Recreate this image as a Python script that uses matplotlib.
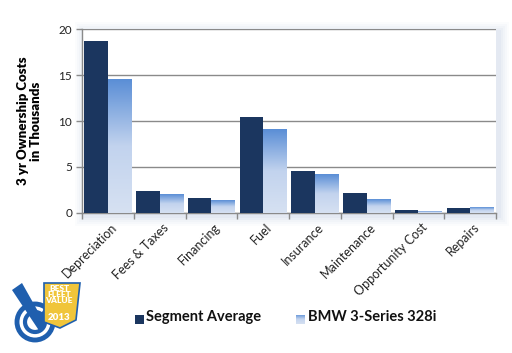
import matplotlib
matplotlib.use("Agg")
import matplotlib.pyplot as plt
import numpy as np
from matplotlib.colors import LinearSegmentedColormap
from matplotlib.patches import Polygon, Circle, Rectangle

categories = ["Depreciation", "Fees & Taxes", "Financing", "Fuel", "Insurance",
              "Maintenance", "Opportunity Cost", "Repairs"]
segment_avg = [18.7, 2.37, 1.6, 10.45, 4.6, 2.17, 0.31, 0.52]
bmw_328i = [14.6, 2.05, 1.39, 9.15, 4.16, 1.52, 0.2, 0.63]
series_names = ["Segment Average", "BMW 3-Series 328i"]
yticks = [0, 5, 10, 15, 20]

plt.rcParams['font.family'] = ['Lato', 'DejaVu Sans']

W, H = 512, 353
fig = plt.figure(figsize=(W/100, H/100), dpi=100)

def fx(px):
    return px / W

def fy(py):
    return 1 - py / H

ax_l, ax_r, ax_t, ax_b = 82, 496, 29.3, 212.8
# soft shadow behind plot area
for i, a in enumerate([0.025, 0.03, 0.035, 0.045, 0.055]):
    g = 10 - 2 * i
    fig.patches.append(Rectangle((fx(ax_l - g + 3), fy(ax_b + g + 3)),
                                 fx(ax_r - ax_l + 2 * g), (ax_b - ax_t + 2 * g) / H,
                                 transform=fig.transFigure, facecolor="#6f8fbf",
                                 edgecolor="none", alpha=a, zorder=-5))

ax = fig.add_axes([fx(ax_l), fy(ax_b), fx(ax_r - ax_l), (ax_b - ax_t) / H])
ax.set_zorder(2)
ax.patch.set_facecolor("white")
ax.patch.set_alpha(1)
x = np.arange(len(categories))
w = 0.455
dark = "#1b365f"
b1 = ax.bar(x - w/2, segment_avg, w, color=dark, zorder=3, label=series_names[0])
b2 = ax.bar(x + w/2, bmw_328i, w, color="#cfdcf0", zorder=3, label=series_names[1])

cmap = LinearSegmentedColormap.from_list("g", ["#d6e1f2", "#c2d3ee", "#5a8ed6"])
grad = np.linspace(0, 1, 256).reshape(-1, 1)
for r in b2:
    x0, y0 = r.get_x(), r.get_y()
    ax.imshow(grad, extent=[x0, x0 + r.get_width(), y0, y0 + r.get_height()],
              origin="lower", aspect="auto", cmap=cmap, zorder=3.5,
              interpolation="bilinear")

ax.set_xlim(-0.5, len(categories) - 0.5)
ax.set_ylim(0, 20)
ax.set_yticks(yticks)
ax.set_yticklabels([str(v) for v in yticks], fontsize=8.5, color="#222222")
ax.yaxis.grid(True, color="#8a8a8a", linewidth=1, zorder=1)
ax.set_axisbelow(True)
ax.tick_params(axis="y", length=4, color="#8a8a8a", width=1, pad=3)
ax.set_xticks(np.arange(len(categories) + 1) - 0.5)
ax.set_xticklabels([])
ax.tick_params(axis="x", length=4, color="#8a8a8a", width=1)
for s in ["top", "right"]:
    ax.spines[s].set_visible(False)
for s in ["left", "bottom"]:
    ax.spines[s].set_color("#8a8a8a")
    ax.spines[s].set_linewidth(1)

for i, c in enumerate(categories):
    ax.text(i + 0.05, -0.9, c, rotation=45, ha="right", va="top",
            rotation_mode="anchor", fontsize=9, color="#222222")

fig.text(fx(30), fy(121), "3 yr Ownership Costs\nin Thousands", rotation=90,
         ha="center", va="center", fontsize=9.5, fontweight="heavy",
         linespacing=1.1, color="#000000")

# legend
fig.patches.append(Rectangle((fx(135), fy(324)), fx(9), 9/H, transform=fig.transFigure,
                             facecolor=dark, edgecolor="none"))
fig.text(fx(146), fy(317), series_names[0], fontsize=10.5, fontweight="bold",
         va="center", ha="left", color="#111111")
lg = fig.add_axes([fx(296), fy(324), fx(9), 9/H])
lg.imshow(grad, origin="lower", aspect="auto", cmap=cmap, extent=[0, 1, 0, 1])
lg.axis("off")
fig.text(fx(308), fy(317), series_names[1], fontsize=10.5, fontweight="bold",
         va="center", ha="left", color="#111111")

# award logo (approximation)
la = fig.add_axes([0, 0, fx(100), 83/H])
la.set_xlim(0, 100)
la.set_ylim(83, 0)
la.axis("off")
la.add_patch(Circle((35, 52), 18, facecolor="none", edgecolor="#1f5fae", linewidth=3.5))
la.add_patch(Circle((35, 52), 10, facecolor="none", edgecolor="#1f5fae", linewidth=3))
la.add_patch(Polygon([[12, 20], [22, 13], [40, 45], [48, 33], [56, 38], [40, 62]],
                     closed=True, facecolor="#1f5fae", edgecolor="none"))
la.add_patch(Polygon([[44, 13], [80, 13], [76, 50], [60, 58], [44, 52]], closed=True,
                     facecolor="#f0c53a", edgecolor="#1f5fae", linewidth=1.2))
la.text(59, 15, "BEST\nFLEET\nVALUE", ha="center", va="top", fontsize=6,
        fontweight="heavy", color="white", linespacing=0.85)
la.text(59, 47, "2013", ha="center", va="center", fontsize=7, fontweight="heavy",
        color="white")

fig.savefig("out.png", dpi=100)
